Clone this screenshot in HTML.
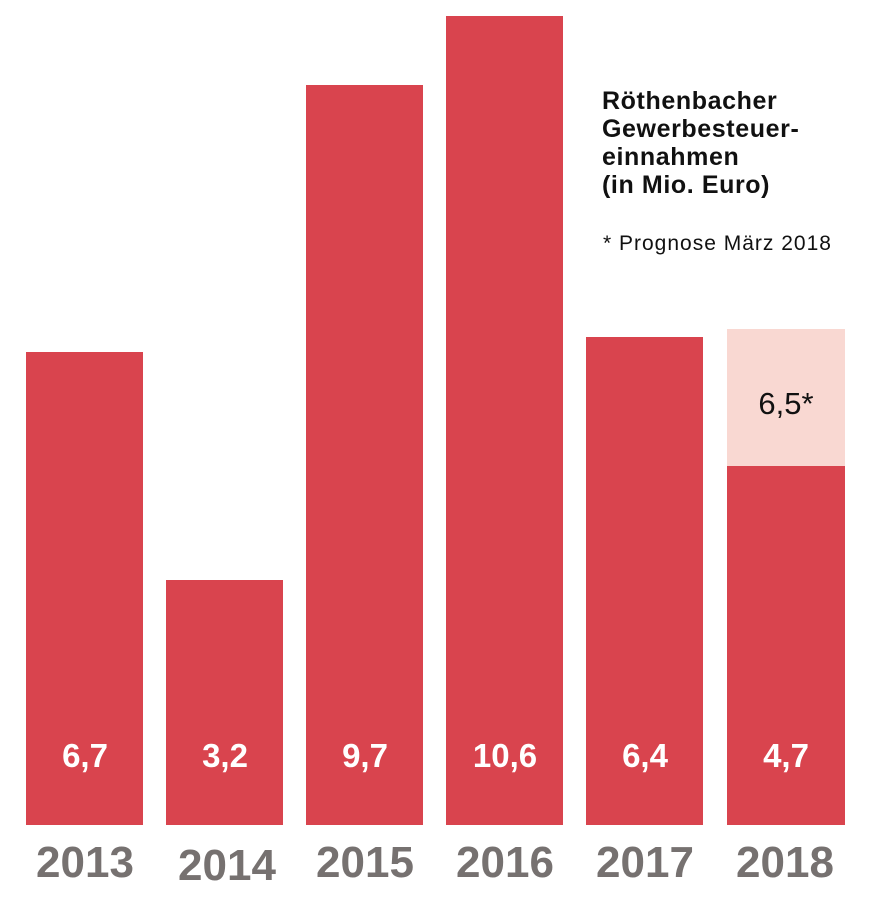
<!DOCTYPE html>
<html><head><meta charset="utf-8"><style>
body{margin:0;width:869px;height:900px;background:#fff;position:relative;overflow:hidden;font-family:"Liberation Sans",sans-serif}
.b{position:absolute;background:#d9444e}
.v{position:absolute;width:118px;text-align:center;color:#fff;font-weight:bold;font-size:33px;top:737px;font-family:"Liberation Sans Narrow","Liberation Sans",sans-serif}
.y{position:absolute;width:140px;text-align:center;color:#767170;font-weight:bold;font-size:44px;top:838px;font-family:"Liberation Sans Narrow","Liberation Sans",sans-serif}
.t{position:absolute;left:602px;top:87px;font-weight:bold;font-size:25px;line-height:28px;color:#111;letter-spacing:0.6px}
.f{position:absolute;left:603px;top:232px;font-size:21px;color:#111;letter-spacing:1px}
</style></head><body>
<div class="b" style="left:26px;width:117px;top:352px;height:473px"></div>
<div class="b" style="left:166px;width:117px;top:580px;height:245px"></div>
<div class="b" style="left:306px;width:117px;top:85px;height:740px"></div>
<div class="b" style="left:446px;width:117px;top:16px;height:809px"></div>
<div class="b" style="left:586px;width:117px;top:337px;height:488px"></div>
<div class="b" style="left:727px;width:118px;top:329px;height:137px;background:#f9d8d2"></div>
<div class="b" style="left:727px;width:118px;top:466px;height:359px"></div>
<div style="position:absolute;left:727px;width:118px;top:386px;text-align:center;font-size:31px;color:#111">6,5*</div>
<div class="v" style="left:26px">6,7</div>
<div class="v" style="left:166px">3,2</div>
<div class="v" style="left:306px">9,7</div>
<div class="v" style="left:446px">10,6</div>
<div class="v" style="left:586px">6,4</div>
<div class="v" style="left:727px">4,7</div>
<div class="y" style="left:15px">2013</div>
<div class="y" style="left:157px;top:841px">2014</div>
<div class="y" style="left:295px">2015</div>
<div class="y" style="left:435px">2016</div>
<div class="y" style="left:575px">2017</div>
<div class="y" style="left:715px">2018</div>
<div class="t">Röthenbacher<br>Gewerbesteuer-<br>einnahmen<br>(in Mio. Euro)</div>
<div class="f">* Prognose März 2018</div>
</body></html>
